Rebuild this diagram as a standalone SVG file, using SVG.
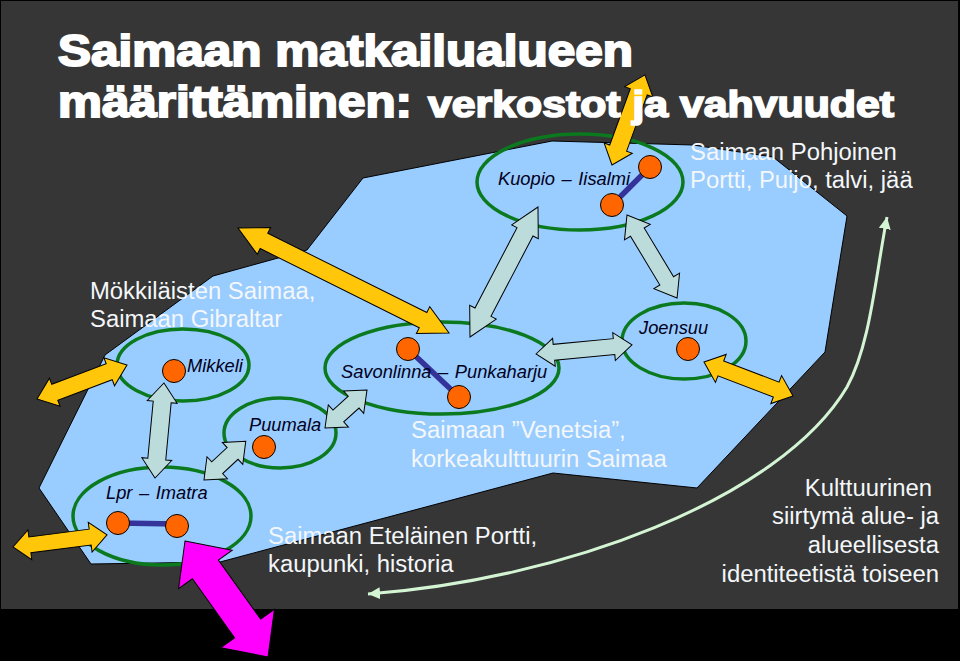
<svg xmlns="http://www.w3.org/2000/svg" width="960" height="661" viewBox="0 0 960 661">
<style>
.t{font-family:"Liberation Sans",Arial,sans-serif;font-size:23.85px;fill:#f4f7fa}
.l{font-family:"Liberation Sans",Arial,sans-serif;font-size:18.3px;font-style:italic;word-spacing:1.5px;fill:#000020}
.h{font-family:"Liberation Sans",Arial,sans-serif;font-weight:bold;fill:#fff;stroke:#fff}
.e{fill:none;stroke:#0b7a1e;stroke-width:3.5}
.c{fill:#ff6600;stroke:#000;stroke-width:1}
.b{stroke:#333399;stroke-width:5.5;fill:none}
.y{fill:#ffc60a;stroke:#000;stroke-width:1}
.g{fill:#bcdcdc;stroke:#000;stroke-width:1}
.m{fill:#ff00ff;stroke:#000;stroke-width:1}
</style>
<defs>
<marker id="ah" markerUnits="userSpaceOnUse" markerWidth="14" markerHeight="14" refX="12" refY="6" orient="auto-start-reverse"><path d="M0,0L12,6L0,12Z" fill="#d4f5d4"/></marker>
</defs>
<rect width="960" height="661" fill="#000"/>
<rect x="1" y="1" width="957" height="608" fill="#363636"/>
<polygon id="region" points="363,178 552,141 693,145 773,157 847,216 825,352 697,488 553,473 220,562 91,564 39,488 105,355 213,276 307,250" fill="#99ccff" stroke="#000" stroke-width="1"/>
<g id="node-kuopio"><ellipse class="e" cx="580" cy="182" rx="103" ry="48"/><line class="b" x1="612" y1="205" x2="650" y2="167"/><circle class="c" cx="650" cy="167" r="11.5"/><circle class="c" cx="612" cy="205" r="11.5"/><text class="l" x="498" y="185">Kuopio – Iisalmi</text></g>
<g id="node-joensuu"><ellipse class="e" cx="684" cy="341" rx="62" ry="38"/><circle class="c" cx="688" cy="349" r="11.5"/><text class="l" x="639" y="334">Joensuu</text></g>
<g id="node-savonlinna"><ellipse class="e" cx="442" cy="368" rx="117" ry="46"/><line class="b" x1="408" y1="349" x2="459" y2="397"/><circle class="c" cx="408" cy="349" r="11.5"/><circle class="c" cx="459" cy="397" r="11.5"/><text class="l" x="341" y="378">Savonlinna – Punkaharju</text></g>
<g id="node-mikkeli"><ellipse class="e" cx="183" cy="365" rx="66" ry="36"/><circle class="c" cx="174" cy="371" r="11.5"/><text class="l" x="187" y="372">Mikkeli</text></g>
<g id="node-puumala"><ellipse class="e" cx="280" cy="433" rx="56" ry="35"/><circle class="c" cx="264" cy="447" r="11.5"/><text class="l" x="249" y="431">Puumala</text></g>
<g id="node-lpr"><ellipse class="e" cx="162" cy="516" rx="89" ry="49"/><line class="b" x1="118" y1="523" x2="177" y2="524"/><circle class="c" cx="118" cy="523" r="11.5"/><circle class="c" cx="177" cy="526" r="11.5"/><text class="l" x="106" y="499">Lpr – Imatra</text></g>
<g id="connectors">
<polygon class="y" transform="translate(238,228) rotate(26.45)" points="0,0 29,-15 29,-8.5 206.7,-8.5 206.7,-15 235.7,0 206.7,15 206.7,8.5 29,8.5 29,15"/>
<polygon class="y" transform="translate(612,165) rotate(-69.9)" points="0,0 18,-15 18,-9 77.9,-9 77.9,-15 95.9,0 77.9,15 77.9,9 18,9 18,15"/>
<polygon class="y" transform="translate(37,399) rotate(-20.7)" points="0,0 19,-15 19,-8.5 77.2,-8.5 77.2,-15 96.2,0 77.2,15 77.2,8.5 19,8.5 19,15"/>
<polygon class="y" transform="translate(13,547) rotate(-7.3)" points="0,0 17,-15 17,-8 77.8,-8 77.8,-15 94.8,0 77.8,15 77.8,8 17,8 17,15"/>
<polygon class="y" transform="translate(704,362) rotate(20.9)" points="0,0 18,-15 18,-8 77.3,-8 77.3,-15 95.3,0 77.3,15 77.3,8 18,8 18,15"/>
<polygon class="m" transform="translate(185,541) rotate(54.4)" points="0,0 35,-33 35,-16 107.6,-16 107.6,-33 142.6,0 107.6,33 107.6,16 35,16 35,33"/>
<polygon class="g" transform="translate(470,337) rotate(-62.4)" points="0,0 28,-15 28,-9 118.7,-9 118.7,-15 146.7,0 118.7,15 118.7,9 28,9 28,15"/>
<polygon class="g" transform="translate(627,215) rotate(58.9)" points="0,0 20,-15 20,-8 76.9,-8 76.9,-15 96.9,0 76.9,15 76.9,8 20,8 20,15"/>
<polygon class="g" transform="translate(536,354) rotate(-5.4)" points="0,0 18,-14 18,-8 78.4,-8 78.4,-14 96.4,0 78.4,14 78.4,8 18,8 18,14"/>
<polygon class="g" transform="translate(155,478) rotate(-84.6)" points="0,0 19,-15 19,-9 76.4,-9 76.4,-15 95.4,0 76.4,15 76.4,9 19,9 19,15"/>
<polygon class="g" transform="translate(325,428) rotate(-42.1)" points="0,0 18,-15 18,-8 38.6,-8 38.6,-15 56.6,0 38.6,15 38.6,8 18,8 18,15"/>
<polygon class="g" transform="translate(204,480) rotate(-42.9)" points="0,0 18,-15 18,-8 39,-8 39,-15 57,0 39,15 39,8 18,8 18,15"/>
<path d="M368,594C560,580 780,500 847,387C870,345 875,280 887,217" fill="none" stroke="#d4f5d4" stroke-width="3" marker-start="url(#ah)" marker-end="url(#ah)"/>
</g>
<text class="h" x="58" y="66" font-size="43.5" stroke-width="2" textLength="575" lengthAdjust="spacingAndGlyphs">Saimaan matkailualueen</text>
<text class="h" x="58" y="117" font-size="43.5" stroke-width="2" textLength="354" lengthAdjust="spacingAndGlyphs">määrittäminen:</text>
<text class="h" x="428" y="117" font-size="36" stroke-width="1.7" textLength="466" lengthAdjust="spacingAndGlyphs">verkostot ja vahvuudet</text>
<text class="t" x="690" y="160">Saimaan Pohjoinen</text>
<text class="t" x="690" y="188">Portti, Puijo, talvi, jää</text>
<text class="t" x="90" y="299">Mökkiläisten Saimaa,</text>
<text class="t" x="90" y="327">Saimaan Gibraltar</text>
<text class="t" x="411" y="438">Saimaan ”Venetsia”,</text>
<text class="t" x="411" y="467">korkeakulttuurin Saimaa</text>
<text class="t" x="268" y="544">Saimaan Eteläinen Portti,</text>
<text class="t" x="268" y="572">kaupunki, historia</text>
<text class="t" x="932" y="496" text-anchor="end">Kulttuurinen</text>
<text class="t" x="939" y="524" text-anchor="end">siirtymä alue- ja</text>
<text class="t" x="939" y="553" text-anchor="end">alueellisesta</text>
<text class="t" x="939" y="582" text-anchor="end">identiteetistä toiseen</text>
</svg>
